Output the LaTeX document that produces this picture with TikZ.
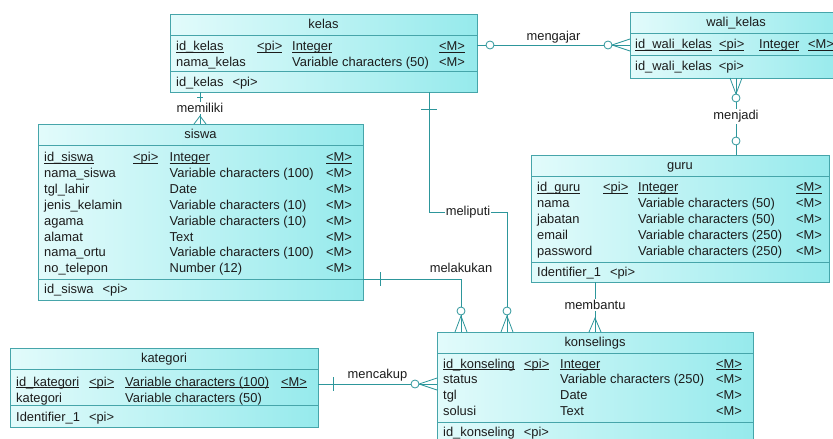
\documentclass[tikz,border=0pt]{standalone}
\usepackage{fontspec}
\setmainfont{Liberation Sans}
\usetikzlibrary{calc}

\definecolor{boxL}{RGB}{226,251,251}
\definecolor{boxR}{RGB}{150,234,236}
\definecolor{edge}{RGB}{70,165,170}
\definecolor{link}{RGB}{45,150,155}
\definecolor{ink}{RGB}{28,28,28}

\newcommand\erfont{\fontsize{12.9}{15}\selectfont}
% underlined primary-key cell
\newcommand\pkul[1]{\setbox0\hbox{#1}\rlap{\rule[-2.2pt]{\wd0}{0.8pt}}\box0}
% column positions of the current table
\newcommand\ercols[4]{\def\cA{#1}\def\cB{#2}\def\cC{#3}\def\cD{#4}}
% one attribute row: prefix, baseline, name, pi, type, M
\newcommand\errow[6]{%
  \node[txt] (#1-n) at (\cA,#2) {#3};
  \node[txt] (#1-p) at (\cB,#2) {#4};
  \node[txt] (#1-t) at (\cC,#2) {#5};
  \node[txt] (#1-m) at (\cD,#2) {#6};}
% table frame: name, x, y, width, height, separator offset, title
\newcommand\ertable[7]{%
  \node[table, minimum width=#4pt, minimum height=#5pt] (#1) at (#2,#3) {};
  \draw[tablerule] ($(#1.north west)+(0,21)$) -- ($(#1.north east)+(0,21)$);
  \draw[tablerule] ($(#1.north west)+(0,#6)$) -- ($(#1.north east)+(0,#6)$);
  \node[ttl] (#1-title) at ($(#1.north)+(0,14.5)$) {#7};}

\begin{document}
\begin{tikzpicture}[x=1pt,y=-1pt,
  table/.style={draw=edge, line width=0.9pt, left color=boxL, right color=boxR,
    anchor=north west, inner sep=0pt, outer sep=0pt},
  tablerule/.style={draw=edge, line width=0.9pt},
  txt/.style={anchor=base west, inner sep=0pt, text=ink, font=\erfont},
  ttl/.style={anchor=base, inner sep=0pt, text=ink, font=\erfont},
  rel/.style={draw=link, line width=0.8pt},
  ring/.style={draw=link, line width=0.8pt, fill=white},
  lbl/.style={fill=white, inner sep=1.2pt, text=ink, font=\erfont},
  plainlbl/.style={inner sep=1pt, text=ink, font=\erfont}]

\fill[white] (0,0) rectangle (833,439);
\useasboundingbox (0,0) rectangle (833,439);

% ---------- tables ----------
\ertable{kelas}{170}{14}{307}{78}{57}{kelas}
\ercols{176}{257}{292}{439}
\errow{kelas1}{50.5}{\pkul{id\_kelas}}{\pkul{<pi>}}{\pkul{Integer}}{\pkul{<M>}}
\errow{kelas2}{66.5}{nama\_kelas}{}{Variable characters (50)}{<M>}
\node[txt] (kelas-key) at (\cA,86.5) {id\_kelas\hspace{9pt}<pi>};

\ertable{wali}{630}{12}{212}{66}{43}{wali\_kelas}
\ercols{635}{719}{759}{808}
\errow{wali1}{48.5}{\pkul{id\_wali\_kelas}}{\pkul{<pi>}}{\pkul{Integer}}{\pkul{<M>}}
\node[txt] (wali-key) at (\cA,70.5) {id\_wali\_kelas\hspace{7pt}<pi>};

\ertable{siswa}{38}{124}{325}{176}{155}{siswa}
\ercols{44}{133}{169.5}{326}
\errow{siswa1}{161.5}{\pkul{id\_siswa}}{\pkul{<pi>}}{\pkul{Integer}}{\pkul{<M>}}
\errow{siswa2}{177.4}{nama\_siswa}{}{Variable characters (100)}{<M>}
\errow{siswa3}{193.3}{tgl\_lahir}{}{Date}{<M>}
\errow{siswa4}{209.2}{jenis\_kelamin}{}{Variable characters (10)}{<M>}
\errow{siswa5}{225.1}{agama}{}{Variable characters (10)}{<M>}
\errow{siswa6}{241.0}{alamat}{}{Text}{<M>}
\errow{siswa7}{256.9}{nama\_ortu}{}{Variable characters (100)}{<M>}
\errow{siswa8}{272.8}{no\_telepon}{}{Number (12)}{<M>}
\node[txt] (siswa-key) at (\cA,293.5) {id\_siswa\hspace{9pt}<pi>};

\ertable{guru}{531}{155}{298}{127}{107}{guru}
\ercols{537}{603}{638}{796}
\errow{guru1}{191.5}{\pkul{id\_guru}}{\pkul{<pi>}}{\pkul{Integer}}{\pkul{<M>}}
\errow{guru2}{207.5}{nama}{}{Variable characters (50)}{<M>}
\errow{guru3}{223.5}{jabatan}{}{Variable characters (50)}{<M>}
\errow{guru4}{239.5}{email}{}{Variable characters (250)}{<M>}
\errow{guru5}{255.5}{password}{}{Variable characters (250)}{<M>}
\node[txt] (guru-key) at (\cA,276.5) {Identifier\_1\hspace{9pt}<pi>};

\ertable{kons}{437}{332}{316}{114}{90}{konselings}
\ercols{443}{524}{560}{716}
\errow{kons1}{368}{\pkul{id\_konseling}}{\pkul{<pi>}}{\pkul{Integer}}{\pkul{<M>}}
\errow{kons2}{383.9}{status}{}{Variable characters (250)}{<M>}
\errow{kons3}{399.8}{tgl}{}{Date}{<M>}
\errow{kons4}{415.7}{solusi}{}{Text}{<M>}
\node[txt] (kons-key) at (\cA,436.5) {id\_konseling\hspace{9pt}<pi>};

\ertable{kat}{10}{348}{308}{79}{57}{kategori}
\ercols{16}{89}{125}{281}
\errow{kat1}{386}{\pkul{id\_kategori}}{\pkul{<pi>}}{\pkul{Variable characters (100)}}{\pkul{<M>}}
\errow{kat2}{402}{kategori}{}{Variable characters (50)}{}
\node[txt] (kat-key) at (\cA,421.5) {Identifier\_1\hspace{9pt}<pi>};

% ---------- relationships ----------
% memiliki: kelas -- siswa
\draw[rel] ($(kelas.south west)+(30,0)$) coordinate (mem1)
  -- node[lbl] (memiliki) {memiliki} ($(siswa.north west)+(162,0)$) coordinate (mem2);
\draw[rel] ($(mem1)+(-3,5)$) -- ($(mem1)+(3,5)$);
\draw[rel] ($(mem2)+(-6,0)$) -- ($(mem2)+(0,-8)$) -- ($(mem2)+(6,0)$);

% mengajar: kelas -- wali_kelas
\draw[rel] ($(kelas.north east)+(0,31)$) coordinate (ng1) -- ($(wali.north west)+(0,33)$) coordinate (ng2);
\draw[rel] ($(ng2)+(0,-6)$) -- ($(ng2)+(-18,0)$) -- ($(ng2)+(0,6)$);
\draw[ring] ($(ng1)+(13,0)$) circle (4);
\draw[ring] ($(ng2)+(-22,0)$) circle (4);
\node[plainlbl] (mengajar) at ($(ng1)!0.5!(ng2)+(0,-8)$) {mengajar};

% menjadi: wali_kelas -- guru
\draw[rel] ($(wali.south west)+(106,0)$) coordinate (nj1)
  -- node[lbl] (menjadi) {menjadi} ($(guru.north west)+(205,0)$) coordinate (nj2);
\draw[rel] ($(nj1)+(-6,0)$) -- ($(nj1)+(0,16)$) -- ($(nj1)+(6,0)$);
\draw[ring] ($(nj1)+(0,20)$) circle (4);
\draw[ring] ($(nj2)+(0,-14)$) circle (4);

% meliputi: kelas -- konselings
\coordinate (nl1) at ($(kelas.south west)+(259,0)$);
\coordinate (nl2) at ($(kons.north west)+(70,0)$);
\draw[rel] (nl1) |- ($(nl1)!0.5!(nl2)$) coordinate (nlm) -| (nl2);
\node[lbl] (meliputi) at (nlm) {meliputi};
\draw[rel] ($(nl1)+(-8,17)$) -- ($(nl1)+(8,17)$);
\draw[rel] ($(nl2)+(-6,0)$) -- ($(nl2)+(0,-16)$) -- ($(nl2)+(6,0)$);
\draw[ring] ($(nl2)+(0,-21)$) circle (4);

% melakukan: siswa -- konselings
\coordinate (nk1) at ($(siswa.north east)+(0,155)$);
\coordinate (nk2) at ($(kons.north west)+(24,0)$);
\draw[rel] (nk1) -| (nk2);
\node[plainlbl] (melakukan) at ($(nk1 -| nk2)+(0,-11)$) {melakukan};
\draw[rel] ($(nk1)+(17,-7)$) -- ($(nk1)+(17,7)$);
\draw[rel] ($(nk2)+(-6,0)$) -- ($(nk2)+(0,-16)$) -- ($(nk2)+(6,0)$);
\draw[ring] ($(nk2)+(0,-21)$) circle (4);

% membantu: guru -- konselings
\draw[rel] ($(guru.south west)+(64,0)$) coordinate (nb1)
  -- node[lbl, pos=0.46] (membantu) {membantu} ($(kons.north west)+(158,0)$) coordinate (nb2);
\draw[rel] ($(nb2)+(-6,0)$) -- ($(nb2)+(0,-14)$) -- ($(nb2)+(6,0)$);

% mencakup: kategori -- konselings
\draw[rel] ($(kat.north east)+(0,36)$) coordinate (nc1) -- ($(kons.north west)+(0,52)$) coordinate (nc2);
\draw[rel] ($(nc1)+(15,-7)$) -- ($(nc1)+(15,7)$);
\draw[rel] ($(nc2)+(0,-6)$) -- ($(nc2)+(-18,0)$) -- ($(nc2)+(0,6)$);
\draw[ring] ($(nc2)+(-22,0)$) circle (4);
\node[plainlbl] (mencakup) at ($(nc1)!0.5!(nc2)+(0,-9)$) {mencakup};

\end{tikzpicture}
\end{document}
